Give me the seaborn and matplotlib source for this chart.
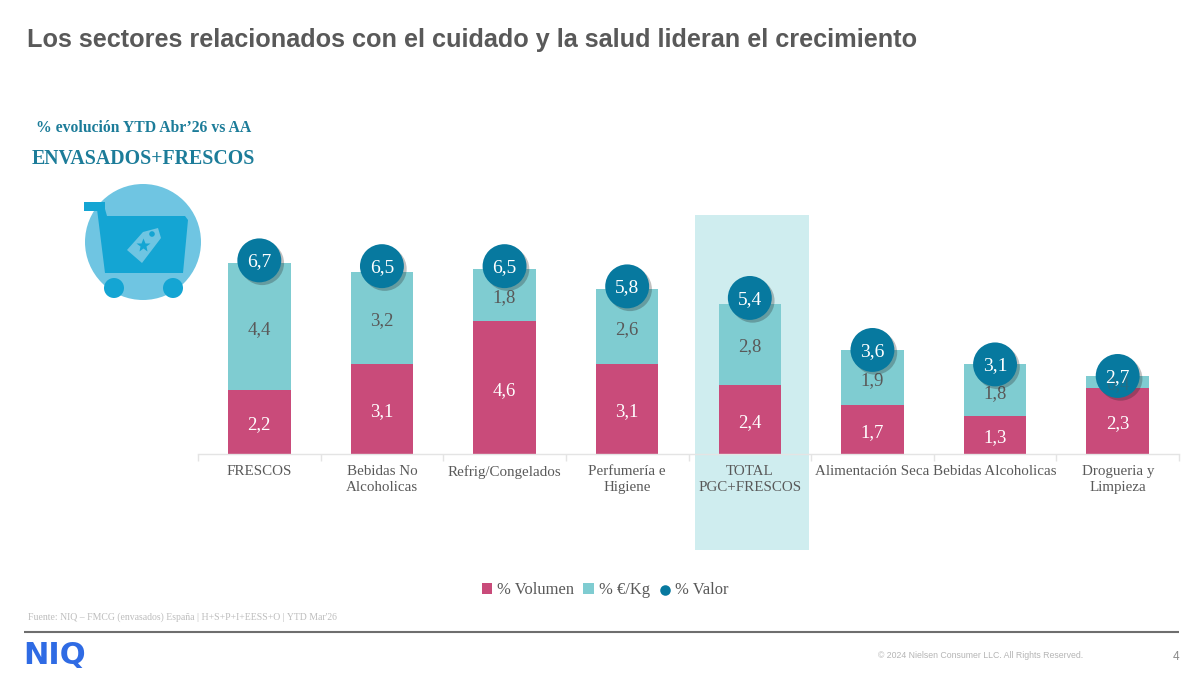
import matplotlib
matplotlib.use("Agg")
import matplotlib.pyplot as plt
import matplotlib.patheffects as pe
from matplotlib.patches import Circle, Polygon, Rectangle
import numpy as np
import pandas as pd
import seaborn as sns

categories = ["FRESCOS", "Bebidas No\nAlcoholicas", "Refrig/Congelados", "Perfumería e\nHigiene",
              "TOTAL\nPGC+FRESCOS", "Alimentación Seca", "Bebidas Alcoholicas", "Drogueria y\nLimpieza"]
volumen = [2.2, 3.1, 4.6, 3.1, 2.4, 1.7, 1.3, 2.3]
precio = [4.4, 3.2, 1.8, 2.6, 2.8, 1.9, 1.8, 0.4]
valor = [6.7, 6.5, 6.5, 5.8, 5.4, 3.6, 3.1, 2.7]

PINK = "#C94B7A"
AQUA = "#7FCCD1"
TEAL = "#07799F"
TEXT = "#595959"
SERIF = ["Liberation Serif", "DejaVu Serif"]


def es(v):
    return f"{v:.1f}".replace(".", ",")


W, H = 1200, 673
sns.set_theme(style="white")
plt.rcParams["font.family"] = SERIF
fig = plt.figure(figsize=(W / 100, H / 100), dpi=100, facecolor="white")

# Page layer in pixel coordinates: banner text, highlight, cart icon, footer
page = fig.add_axes([0, 0, 1, 1], zorder=-1)
page.set_xlim(0, W)
page.set_ylim(H, 0)
page.axis("off")

page.add_patch(Rectangle((695, 215), 114, 335, fc="#CFEDEF", ec="none"))

page.text(27, 39.5, "Los sectores relacionados con el cuidado y la salud lideran el crecimiento",
          family="Liberation Sans", weight="bold", size=18.15, color="#595959", va="center")
page.text(36, 128.5, "% evolución YTD Abr’26 vs AA", weight="bold", size=11.3, color="#1C7C99", va="center")
page.text(32, 158.5, "ENVASADOS+FRESCOS", weight="bold", size=14.3, color="#1C7C99", va="center")

# Shopping cart icon
page.add_patch(Circle((143, 242), 58, fc="#6FC5E2", ec="none"))
page.add_patch(Rectangle((84, 202), 21, 9, fc="#14A5D3", ec="none"))
page.add_patch(Polygon([(97, 209), (105, 209), (107, 216), (185, 216), (188, 220), (183, 273), (105, 273)],
                       closed=True, fc="#14A5D3", ec="none"))
page.add_patch(Circle((114, 288), 10, fc="#14A5D3", ec="none"))
page.add_patch(Circle((173, 288), 10, fc="#14A5D3", ec="none"))
page.add_patch(Polygon([(127, 250), (143, 232), (158, 228), (161, 238), (142, 263)],
                       closed=True, fc="#6FC5E2", ec="none"))
page.add_patch(Circle((152, 234), 2.8, fc="#14A5D3", ec="none"))
page.plot([143], [245], marker="*", ms=10, color="#14A5D3", mec="none")

page.text(28, 617, "Fuente: NIQ – FMCG (envasados) España | H+S+P+I+EESS+O | YTD Mar'26",
          size=7, color="#BDBDBD", va="center")
page.plot([24, 1179], [632, 632], color="#6E6E6E", lw=1.5, solid_capstyle="butt")
page.text(23, 655, "NIQ", family="DejaVu Sans", weight="bold", size=22, color="#2F6BE4", va="center")
page.text(1083, 655, "© 2024 Nielsen Consumer LLC. All Rights Reserved.", family="Liberation Sans",
          size=6.3, color="#B5B5B5", va="center", ha="right")
page.text(1179, 657, "4", family="Liberation Sans", size=8.5, color="#8A8A8A", va="center", ha="right")

# Chart: baseline at y=454 px, 28.9 px per percentage point
left, right, base, top = 198, 1179, 454, 200
ax = fig.add_axes([left / W, 1 - base / H, (right - left) / W, (base - top) / H], facecolor="none")
df = pd.DataFrame({"categoria": categories, "volumen": volumen, "precio": precio, "valor": valor})

sns.barplot(data=df, x="categoria", y="volumen", color=PINK, width=0.51, saturation=1,
            label="% Volumen", ax=ax, zorder=2, linewidth=0)
sns.barplot(data=df, x="categoria", y="precio", bottom=df["volumen"], color=AQUA, width=0.51, saturation=1,
            label="% €/Kg", ax=ax, zorder=2, linewidth=0)
sns.scatterplot(data=df, x="categoria", y="valor", color=TEAL, s=1000, linewidth=0,
                label="% Valor", ax=ax, zorder=4, clip_on=False)

ax.set_xlim(-0.5, 7.5)
ax.set_ylim(0, (base - top) / 28.9)
ax.set_xlabel("")
ax.set_ylabel("")
ax.set_yticks([])
for side in ("top", "right", "left"):
    ax.spines[side].set_visible(False)
ax.spines["bottom"].set_color("#E4E4E4")
ax.spines["bottom"].set_linewidth(1)
ax.spines["bottom"].set_zorder(3)
ax.set_xticks(np.arange(8), categories)
ax.tick_params(axis="x", length=0, pad=8, labelsize=10.8, labelcolor=TEXT)
for lab in ax.get_xticklabels():
    lab.set_linespacing(1.27)
    lab.set_verticalalignment("top")
ax.set_xticks(np.arange(-0.5, 8, 1), minor=True)
ax.tick_params(axis="x", which="minor", bottom=True, length=5, color="#E4E4E4", width=1)


def value_label(i, y, txt, drop=2, **kw):
    ax.annotate(txt, (i, y), xytext=(0, -drop), textcoords="offset points", ha="center", va="center", **kw)


for i, (v, p, t) in enumerate(zip(volumen, precio, valor)):
    value_label(i, v / 2, es(v), color="white", size=13.5, zorder=5)
    small = p < 1
    value_label(i, v + p / 2, es(p), color=TEXT, size=13.5, zorder=5 if small else 3, alpha=0.4 if small else 1)
    value_label(i, t, es(t), drop=1, color="white", size=14, zorder=6)

# Legend below the bars, in a single row
handles, labels = ax.get_legend_handles_labels()
by_label = dict(zip(labels, handles))
order = ["% Volumen", "% €/Kg", "% Valor"]
if ax.get_legend() is not None:
    ax.get_legend().remove()
fig.legend([by_label[k] for k in order], order, ncol=3, loc="center", bbox_to_anchor=(605 / W, 1 - 590 / H),
           frameon=False, fontsize=11.9, labelcolor=TEXT, handlelength=0.65, handleheight=0.65, handletextpad=0.3,
           columnspacing=0.55, markerscale=0.24)

# Soft drop shadow on the value bubbles, added once the legend has its own clean marker
ax.collections[-1].set_path_effects([pe.SimplePatchShadow(offset=(2, -2), alpha=0.28, shadow_rgbFace="#222222"),
                                     pe.Normal()])

fig.savefig("out.png", dpi=100)
